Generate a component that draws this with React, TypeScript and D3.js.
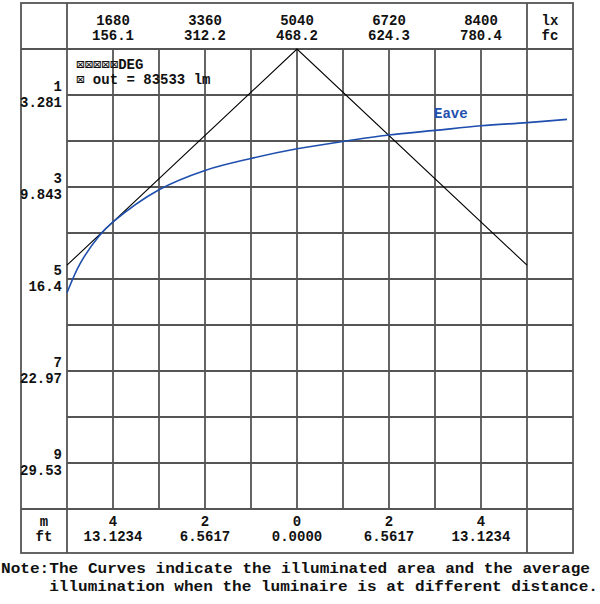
import React from "react";
import * as d3 from "d3";

// ---- data ----
const luxTicks = [1680, 3360, 5040, 6720, 8400];
const fcTicks = ["156.1", "312.2", "468.2", "624.3", "780.4"];
const distTicksM = [1, 3, 5, 7, 9];
const distTicksFt = ["3.281", "9.843", "16.4", "22.97", "29.53"];
const sideTicksM = [-4, -2, 0, 2, 4];
const sideTicksFt = ["13.1234", "6.5617", "0.0000", "6.5617", "13.1234"];

// illuminated area half-width (m) vs distance (m)
const beamSide = [-5, 0, 5];
const beamDist = [4.7, 0, 4.7];

// average illuminance (lx) vs distance (m)
const eaveLux = [840, 1077, 1430, 1680, 2520, 3360, 4200, 5040, 5880, 6720, 7560, 8400, 9240, 9970];
const eaveDist = [5.3, 4.67, 4.06, 3.76, 3.06, 2.64, 2.38, 2.17, 2.01, 1.87, 1.77, 1.67, 1.6, 1.53];

const legendBoxes = ["⊠⊠⊠⊠⊠", "⊠"];
const legendTexts = ["DEG", " out = 83533 lm"];
const noteLines = [
  "Note:The Curves indicate the illuminated area and the average",
  "     illumination when the luminaire is at different distance.",
];

export default function App() {
  const W = 600, H = 604;
  const L = 21, R = 573, T = 3, B = 553;
  const x = d3.scaleLinear().domain([-5, 6]).range([67, 573]);
  const y = d3.scaleLinear().domain([0, 10]).range([49, 509]);
  const xLux = d3.scaleLinear().domain([0, 10080]).range([21, 573]);

  const gridColor = "#555";
  const gw = 1.8;
  const font = "'Liberation Mono', 'Courier New', 'DejaVu Sans Mono', monospace";
  const boxFont = "'DejaVu Sans Mono', monospace";
  const blue = "#1f4fae";

  const beamLine = d3.line<number>()
    .x((i) => x(beamSide[i]))
    .y((i) => y(beamDist[i]));
  const eaveLine = d3.line<number>()
    .x((i) => xLux(eaveLux[i]))
    .y((i) => y(eaveDist[i]))
    .curve(d3.curveCatmullRom.alpha(0.5));

  const innerV = d3.range(-4, 5);
  const innerH = d3.range(1, 10);

  return (
    <svg width={W} height={H} style={{ position: "absolute", left: 0, top: 0, background: "#fff" }}>
      <rect x={0} y={0} width={W} height={H} fill="#fff" />
      {/* grid */}
      <g stroke={gridColor} strokeWidth={gw} fill="none">
        {innerV.map((m) => (
          <line key={"v" + m} x1={x(m)} x2={x(m)} y1={y(0)} y2={y(10)} />
        ))}
        {innerH.map((d) => (
          <line key={"h" + d} x1={x(-5)} x2={R} y1={y(d)} y2={y(d)} />
        ))}
        <line x1={L} x2={R} y1={y(0)} y2={y(0)} />
        <line x1={L} x2={R} y1={y(10)} y2={y(10)} />
        <line x1={x(-5)} x2={x(-5)} y1={T} y2={B} />
        <line x1={x(5)} x2={x(5)} y1={T} y2={B} />
        <rect x={L} y={T} width={R - L} height={B - T} />
      </g>

      {/* curves */}
      <path d={beamLine(d3.range(beamSide.length)) || ""} fill="none" stroke="#000" strokeWidth={1.1} />
      <path d={eaveLine(d3.range(eaveLux.length)) || ""} fill="none" stroke={blue} strokeWidth={1.6} />

      <g fontFamily={font} fontWeight="bold" fontSize={14} fill="#111">
        {/* top axis */}
        {luxTicks.map((v, i) => (
          <g key={"t" + i}>
            <text x={xLux(v)} y={25} textAnchor="middle">{v}</text>
            <text x={xLux(v)} y={40} textAnchor="middle">{fcTicks[i]}</text>
          </g>
        ))}
        <text x={(x(5) + R) / 2} y={25} textAnchor="middle">lx</text>
        <text x={(x(5) + R) / 2} y={40} textAnchor="middle">fc</text>

        {/* left axis */}
        {distTicksM.map((v, i) => (
          <g key={"l" + i}>
            <text x={62} y={y(v) - 4} textAnchor="end">{v}</text>
            <text x={62} y={y(v) + 12} textAnchor="end">{distTicksFt[i]}</text>
          </g>
        ))}

        {/* bottom axis */}
        {sideTicksM.map((v, i) => (
          <g key={"b" + i}>
            <text x={x(v)} y={526} textAnchor="middle">{Math.abs(v)}</text>
            <text x={x(v)} y={541} textAnchor="middle">{sideTicksFt[i]}</text>
          </g>
        ))}
        <text x={(L + x(-5)) / 2} y={526} textAnchor="middle">m</text>
        <text x={(L + x(-5)) / 2} y={541} textAnchor="middle">ft</text>

        {/* legend */}
        {legendBoxes.map((b, i) => (
          <text key={"lg" + i} x={76} y={69 + i * 15} style={{ whiteSpace: "pre" }}>
            <tspan fontFamily={boxFont} fontWeight="normal" fontSize={14}>{b}</tspan>
            <tspan>{legendTexts[i]}</tspan>
          </text>
        ))}

        <text x={434} y={118} fill={blue}>Eave</text>
      </g>

      {/* note */}
      <g fontFamily={font} fontWeight="bold" fontSize={15} fill="#111">
        <text x={1} y={573} textLength={589} lengthAdjust="spacingAndGlyphs" style={{ whiteSpace: "pre" }}>
          {noteLines[0]}
        </text>
        <text x={1} y={591} textLength={597} lengthAdjust="spacingAndGlyphs" style={{ whiteSpace: "pre" }}>
          {noteLines[1]}
        </text>
      </g>
    </svg>
  );
}
